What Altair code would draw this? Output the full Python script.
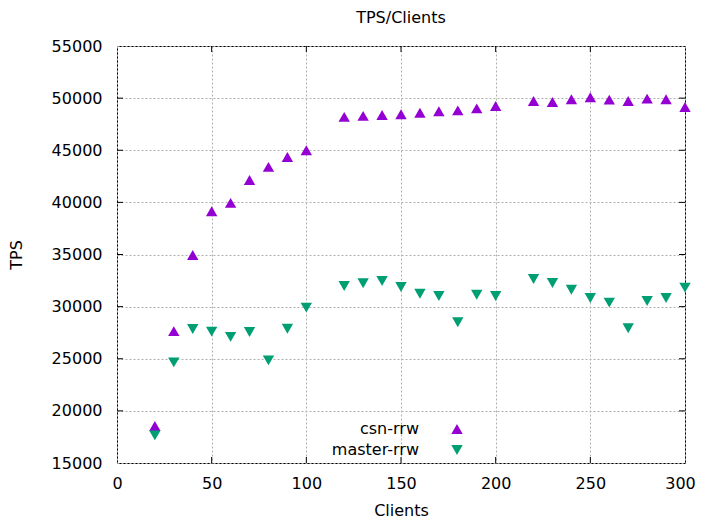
import altair as alt
import pandas as pd

clients = [20, 30, 40, 50, 60, 70, 80, 90, 100, 120, 130, 140, 150, 160, 170,
           180, 190, 200, 220, 230, 240, 250, 260, 270, 280, 290, 300]
csn_rrw = [18550, 27650, 34950, 39150, 39950, 42150, 43400, 44350, 45000,
           48200, 48300, 48380, 48450, 48600, 48740, 48830, 49020, 49250,
           49720, 49630, 49890, 50080, 49860, 49720, 49950, 49890, 49150]
master_rrw = [17650, 24650, 27850, 27600, 27100, 27570, 24850, 27880, 29900,
              31980, 32240, 32460, 31880, 31240, 31020, 28500, 31140, 31020,
              32650, 32270, 31620, 30830, 30380, 27920, 30540, 30830, 31820]
series_names = ["csn-rrw", "master-rrw"]
series_colors = ["#9400D3", "#009E73"]
series_shapes = ["triangle-up", "triangle-down"]
x_ticks = [0, 50, 100, 150, 200, 250, 300]
y_ticks = [15000, 20000, 25000, 30000, 35000, 40000, 45000, 50000, 55000]

W, H = 568, 417
FONT = "DejaVu Sans"

df = pd.DataFrame({
    "Clients": clients * 2,
    "TPS": csn_rrw + master_rrw,
    "series": [series_names[0]] * len(clients) + [series_names[1]] * len(clients),
})

xs = alt.Scale(domain=[0, 300], nice=False, zero=False)
ys = alt.Scale(domain=[15000, 55000], nice=False, zero=False)

points = alt.Chart(df).mark_point(filled=True, size=130, opacity=1).encode(
    x=alt.X("Clients:Q", scale=xs, title="Clients",
            axis=alt.Axis(values=x_ticks, format="d",
                          labelOffset={"condition": {"test": "datum.value == 300", "value": -5},
                                       "value": 0})),
    y=alt.Y("TPS:Q", scale=ys, title="TPS",
            axis=alt.Axis(values=y_ticks, format="d")),
    color=alt.Color("series:N", scale=alt.Scale(domain=series_names, range=series_colors), legend=None),
    shape=alt.Shape("series:N", scale=alt.Scale(domain=series_names, range=series_shapes), legend=None),
)

xt = pd.DataFrame({"xv": x_ticks[1:-1]})
yt = pd.DataFrame({"yv": y_ticks[1:-1]})
tick_col = "#000000"
tk = 6
ticks_bottom = alt.Chart(xt).mark_rule(color=tick_col, strokeWidth=1).encode(
    x=alt.X("xv:Q", scale=xs), y=alt.value(H), y2=alt.value(H - tk))
ticks_top = alt.Chart(xt).mark_rule(color=tick_col, strokeWidth=1).encode(
    x=alt.X("xv:Q", scale=xs), y=alt.value(0), y2=alt.value(tk))
ticks_left = alt.Chart(yt).mark_rule(color=tick_col, strokeWidth=1).encode(
    y=alt.Y("yv:Q", scale=ys), x=alt.value(0), x2=alt.value(tk))
ticks_right = alt.Chart(yt).mark_rule(color=tick_col, strokeWidth=1).encode(
    y=alt.Y("yv:Q", scale=ys), x=alt.value(W), x2=alt.value(W - tk))

leg = pd.DataFrame({"series": series_names, "ly": [383, 404]})
leg_text = alt.Chart(leg).mark_text(align="right", baseline="middle", font=FONT,
                                    fontSize=16, color="black").encode(
    text="series:N", x=alt.value(302), y=alt.Y("ly:Q", scale=None))
leg_sym = alt.Chart(leg).mark_point(filled=True, size=130, opacity=1).encode(
    x=alt.value(340), y=alt.Y("ly:Q", scale=None),
    color=alt.Color("series:N", scale=alt.Scale(domain=series_names, range=series_colors), legend=None),
    shape=alt.Shape("series:N", scale=alt.Scale(domain=series_names, range=series_shapes), legend=None),
)

chart = alt.layer(points, ticks_bottom, ticks_top, ticks_left, ticks_right, leg_text, leg_sym).properties(
    width=W, height=H,
    title=alt.TitleParams("TPS/Clients", font=FONT, fontSize=16, fontWeight="normal",
                          color="black", anchor="middle", offset=12),
    padding={"left": 0, "top": 2, "right": 0, "bottom": 0},
).configure_view(
    stroke="black", strokeWidth=1
).configure_axis(
    labelFont=FONT, labelFontSize=16, labelColor="black", labelFlush=False,
    titleFont=FONT, titleFontSize=16, titleFontWeight="normal", titleColor="black",
    domain=False, ticks=False,
    grid=True, gridColor="#b0b0b0", gridDash=[2, 2], gridWidth=1,
).configure_axisY(
    labelPadding=15, titlePadding=27,
).configure_axisX(
    labelPadding=12, titlePadding=11,
)

chart.save("out.html", embed_options={"renderer": "svg", "actions": False})
